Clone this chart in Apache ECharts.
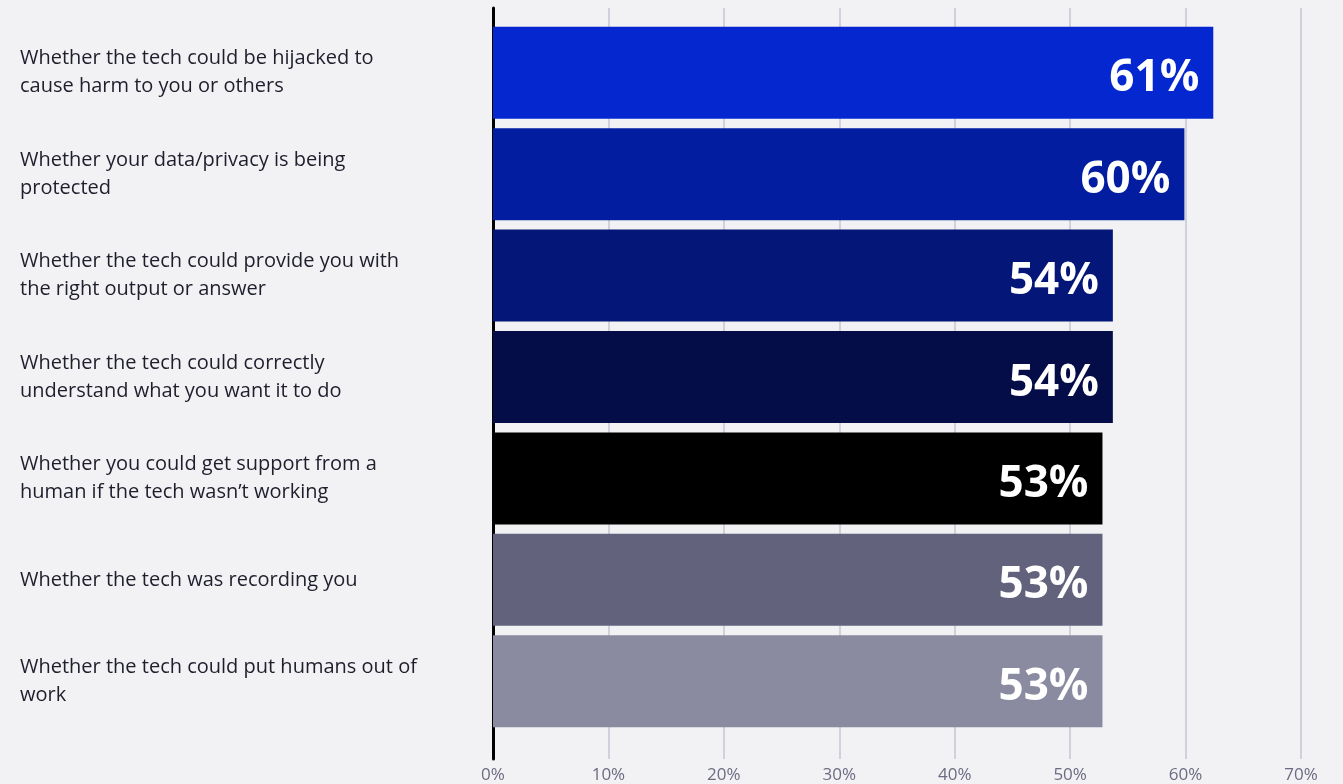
<!DOCTYPE html>
<html>
<head>
<meta charset="utf-8">
<script src="https://cdn.jsdelivr.net/npm/echarts@6/dist/echarts.min.js"></script>
<style>
html,body{margin:0;padding:0;background:#f2f2f5;}
#chart{width:1343px;height:784px;}
</style>
</head>
<body>
<div id="chart"></div>
<script>
const categories = [
  "Whether the tech could be hijacked to cause harm to you or others",
  "Whether your data/privacy is being protected",
  "Whether the tech could provide you with the right output or answer",
  "Whether the tech could correctly understand what you want it to do",
  "Whether you could get support from a human if the tech wasn\u2019t working",
  "Whether the tech was recording you",
  "Whether the tech could put humans out of work"
];
const values = [62.4, 59.9, 53.7, 53.7, 52.8, 52.8, 52.8];
const valueLabels = ["61%", "60%", "54%", "54%", "53%", "53%", "53%"];
const barColors = ["#0527CF", "#031DA0", "#041677", "#040D47", "#000000", "#62627C", "#8A8AA0"];
const tickLabels = ["0%", "10%", "20%", "30%", "40%", "50%", "60%", "70%"];

const FONT = "Open Sans";
const chart = echarts.init(document.getElementById('chart'), null, {renderer: 'canvas'});
chart.setOption({
  backgroundColor: '#f2f2f5',
  animation: false,
  grid: [
    {left: 493, right: 42, top: 8, bottom: 24},
    {left: 493, right: 42, top: 22, bottom: 52}
  ],
  xAxis: [
    {
      gridIndex: 0, type: 'value', min: 0, max: 70, interval: 10,
      axisLine: {show: false}, axisTick: {show: false},
      splitLine: {show: true, lineStyle: {color: '#c6c6d2', width: 1.5}},
      axisLabel: {
        margin: 8, color: '#6b6b82', fontSize: 17, fontFamily: FONT,
        formatter: function (v) { return tickLabels[Math.round(v / 10)]; }
      }
    },
    {
      gridIndex: 1, type: 'value', min: 0, max: 70, interval: 10,
      show: false
    }
  ],
  yAxis: [
    {
      gridIndex: 0, type: 'value', min: 0, max: 1,
      axisLine: {show: true, onZero: false, lineStyle: {color: '#000000', width: 3}},
      axisTick: {show: false}, axisLabel: {show: false}, splitLine: {show: false}
    },
    {
      gridIndex: 1, type: 'category', inverse: true, data: categories,
      axisLine: {show: false}, axisTick: {show: false},
      axisLabel: {
        margin: 473, align: 'left', color: '#1e1e2c', fontSize: 20, fontFamily: FONT,
        lineHeight: 28, width: 406, overflow: 'break'
      }
    }
  ],
  series: [{
    type: 'bar',
    xAxisIndex: 1, yAxisIndex: 1,
    barWidth: 92,
    z: 3,
    data: values.map(function (v, i) {
      return {value: v, itemStyle: {color: barColors[i]}};
    }),
    label: {
      show: true, position: 'insideRight', distance: 14, offset: [0, 6],
      color: '#ffffff', fontSize: 44, fontWeight: 'bold', fontFamily: FONT,
      formatter: function (p) { return valueLabels[p.dataIndex]; }
    }
  }]
});
</script>
</body>
</html>
